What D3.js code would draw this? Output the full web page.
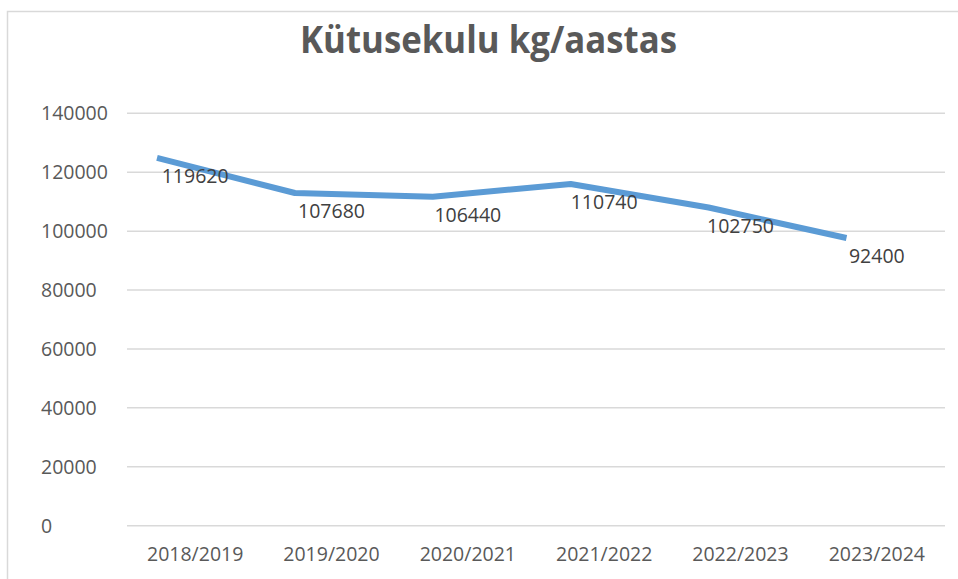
<!DOCTYPE html>
<html>
<head>
<meta charset="utf-8">
<script src="https://cdn.jsdelivr.net/npm/d3@7"></script>
<style>
  html, body { margin: 0; padding: 0; background: #fff; }
  svg { display: block; }
</style>
</head>
<body>
<svg id="chart" width="958" height="579"></svg>
<script>
const title = "Kütusekulu kg/aastas";
const categories = ["2018/2019", "2019/2020", "2020/2021", "2021/2022", "2022/2023", "2023/2024"];
const values = [119620, 107680, 106440, 110740, 102750, 92400];
const yTicks = [0, 20000, 40000, 60000, 80000, 100000, 120000, 140000];

const svg = d3.select("#chart");
const textColor = "#595959";
const gridColor = "#d9d9d9";
const font = "'Open Sans', 'Noto Sans', sans-serif";

// outer chart border
svg.append("rect")
  .attr("x", 7.5).attr("y", 11.5)
  .attr("width", 970).attr("height", 600)
  .attr("fill", "#fff").attr("stroke", gridColor).attr("stroke-width", 1.5);

const plot = { left: 127, right: 945, top: 113.3, bottom: 525.7 };

const x = d3.scaleBand().domain(categories).range([plot.left, plot.right]).padding(0);
const y = d3.scaleLinear().domain([0, 140000]).range([plot.bottom, plot.top]);

// gridlines
svg.append("g").selectAll("line").data(yTicks).join("line")
  .attr("x1", plot.left).attr("x2", plot.right)
  .attr("y1", d => y(d)).attr("y2", d => y(d))
  .attr("stroke", gridColor).attr("stroke-width", 1.5);

// y labels (left aligned)
svg.append("g").selectAll("text").data(yTicks).join("text")
  .attr("x", 41).attr("y", d => y(d))
  .attr("dy", "0.36em")
  .attr("text-anchor", "start")
  .attr("font-family", font).attr("font-size", 19.5)
  .attr("fill", textColor)
  .text(d => d);

// x labels
svg.append("g").selectAll("text").data(categories).join("text")
  .attr("x", d => x(d) + x.bandwidth() / 2)
  .attr("y", 561)
  .attr("text-anchor", "middle")
  .attr("font-family", font).attr("font-size", 19.5)
  .attr("fill", textColor)
  .text(d => d);

// line (drawn displaced as in the reference)
const xLine = d3.scalePoint().domain(categories).range([157, 846.5]);
const line = d3.line()
  .x((d, i) => xLine(categories[i]))
  .y(d => y(d));
svg.append("path")
  .datum(values)
  .attr("transform", "translate(0,-15.5)")
  .attr("d", line)
  .attr("fill", "none")
  .attr("stroke", "#5b9bd5")
  .attr("stroke-width", 6)
  .attr("stroke-linejoin", "round");

// data labels
svg.append("g").selectAll("text").data(values).join("text")
  .attr("x", (d, i) => x(categories[i]) + x.bandwidth() / 2)
  .attr("y", d => y(d) + 2.5)
  .attr("dy", "0.36em")
  .attr("text-anchor", "middle")
  .attr("font-family", font).attr("font-size", 19.5)
  .attr("fill", "#404040")
  .text(d => d);

// title
svg.append("text")
  .attr("x", 300).attr("y", 52.7)
  .attr("font-family", font).attr("font-weight", "bold").attr("font-size", 38)
  .attr("textLength", 377).attr("lengthAdjust", "spacingAndGlyphs")
  .attr("fill", textColor)
  .text(title);
</script>
</body>
</html>
